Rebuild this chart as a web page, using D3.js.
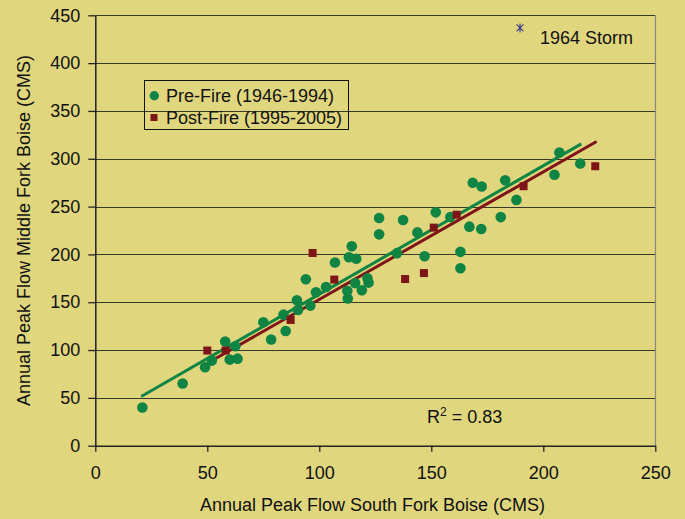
<!DOCTYPE html>
<html>
<head>
<meta charset="utf-8">
<script src="https://cdn.jsdelivr.net/npm/d3@7"></script>
<style>
  html, body { margin: 0; padding: 0; background: #dfd67e; }
  svg { display: block; }
  text { font-family: "Liberation Sans", Arial, sans-serif; fill: #111; }
</style>
</head>
<body>
<svg id="chart" width="685" height="519"></svg>
<script>
// ---- data ----
const preFireX = [21, 39, 49, 52, 58, 60, 62.5, 63.5, 75, 78.5, 84, 85, 90, 90.5, 94, 96, 98.5, 103, 107, 112.5, 112.7, 113.2, 114.5, 116.5, 116, 119, 121.5, 122, 126.7, 126.7, 134.7, 137.4, 143.8, 147, 152, 158.5, 163, 163, 167, 172.3, 168.5, 172.5, 181, 183, 188, 205, 207.2, 216.5];
const preFireY = [40, 65, 82, 89, 109, 90, 104, 91, 129, 111, 137, 120, 152, 142, 174, 146.5, 160.5, 166, 191.5, 162, 154, 197, 208.5, 195.5, 170, 162.5, 175, 170.5, 238, 221, 201.3, 236, 223, 198, 244, 239, 202.7, 185.5, 229, 226.5, 275, 271, 239, 277.5, 257, 283.3, 306.6, 295];
const postFireX = [50, 58.2, 87.2, 97, 106.7, 138.3, 146.7, 151.1, 161.3, 191.2, 223.2];
const postFireY = [99.5, 99.5, 131.5, 201.5, 173.7, 174.3, 180.5, 228, 241.5, 271.3, 292.2];
const stormX = [189.6];
const stormY = [436.8];
// trend line endpoints
const trendPreX = [20.5, 217];
const trendPreY = [51.5, 315.6];
const trendPostX = [50, 223.8];
const trendPostY = [86.2, 318.1];
const xTicks = [0, 50, 100, 150, 200, 250];
const yTicks = [0, 50, 100, 150, 200, 250, 300, 350, 400, 450];
const legendLabels = ["Pre-Fire (1946-1994)", "Post-Fire (1995-2005)"];
const stormLabel = "1964 Storm";
const xTitle = "Annual Peak Flow South Fork Boise (CMS)";
const yTitle = "Annual Peak Flow Middle Fork Boise (CMS)";

const green = "#0f8443";
const red = "#7e1517";
const FS = 18;

const svg = d3.select("#chart");
const x = d3.scaleLinear().domain([0, 250]).range([95.3, 655.3]);
const y = d3.scaleLinear().domain([0, 450]).range([445.7, 15.3]);

// gridlines
svg.append("g").selectAll("line").data(yTicks.filter(d => d > 0)).join("line")
  .attr("x1", x(0)).attr("x2", x(250))
  .attr("y1", d => Math.round(y(d)) + 0.5).attr("y2", d => Math.round(y(d)) + 0.5)
  .attr("stroke", "#3a3a2a").attr("stroke-width", 1);

// right border
svg.append("line").attr("x1", Math.round(x(250)) + 0.5).attr("x2", Math.round(x(250)) + 0.5)
  .attr("y1", y(450)).attr("y2", y(0)).attr("stroke", "#8a8a80").attr("stroke-width", 1.2);

// axes
const yAxis = svg.append("g").attr("transform", `translate(${x(0)},0)`)
  .call(d3.axisLeft(y).tickValues(yTicks).tickSize(7).tickSizeOuter(0).tickPadding(8));
const xAxis = svg.append("g").attr("transform", `translate(0,${y(0)})`)
  .call(d3.axisBottom(x).tickValues(xTicks).tickSize(6).tickSizeOuter(0).tickPadding(14.5));
[yAxis, xAxis].forEach(a => {
  a.selectAll("path.domain").attr("stroke", "#222").attr("stroke-width", 1.5);
  a.selectAll(".tick line").attr("stroke", "#222").attr("stroke-width", 1.3);
  a.selectAll("text").attr("font-size", FS).attr("fill", "#111")
    .attr("font-family", "'Liberation Sans', Arial, sans-serif");
});

// axis titles
svg.append("text").attr("x", 372.5).attr("y", 511).attr("text-anchor", "middle")
  .attr("font-size", FS).text(xTitle);
svg.append("text").attr("transform", `translate(29.5,${(y(0) + y(450)) / 2}) rotate(-90)`)
  .attr("text-anchor", "middle").attr("font-size", FS).text(yTitle);

// trend lines
const line = d3.line().x(d => x(d[0])).y(d => y(d[1]));
svg.append("path").datum(trendPostX.map((d, i) => [d, trendPostY[i]]))
  .attr("d", line).attr("stroke", red).attr("stroke-width", 3).attr("fill", "none");
svg.append("path").datum(trendPreX.map((d, i) => [d, trendPreY[i]]))
  .attr("d", line).attr("stroke", green).attr("stroke-width", 3).attr("fill", "none");

// pre-fire points
svg.append("g").selectAll("circle").data(preFireX.map((d, i) => [d, preFireY[i]])).join("circle")
  .attr("cx", d => x(d[0])).attr("cy", d => y(d[1])).attr("r", 5.3).attr("fill", green);

// post-fire points
const sq = 8;
svg.append("g").selectAll("rect").data(postFireX.map((d, i) => [d, postFireY[i]])).join("rect")
  .attr("x", d => x(d[0]) - sq / 2).attr("y", d => y(d[1]) - sq / 2)
  .attr("width", sq).attr("height", sq).attr("fill", red);

// storm point (asterisk)
const ast = svg.append("g").selectAll("g").data(stormX.map((d, i) => [d, stormY[i]])).join("g")
  .attr("transform", d => `translate(${x(d[0])},${y(d[1])})`);
ast.append("path").attr("d", "M-3.5,-3.5L3.5,3.5M-3.5,3.5L3.5,-3.5M0,-4.5L0,4.5")
  .attr("stroke", "#3b3b8c").attr("stroke-width", 1.2).attr("fill", "none");
svg.append("text").attr("x", 540).attr("y", 44).attr("font-size", FS).text(stormLabel);

// R squared
const r2 = svg.append("text").attr("x", 427).attr("y", 423).attr("font-size", FS);
r2.append("tspan").text("R");
r2.append("tspan").attr("font-size", 12).attr("dy", -7).text("2");
r2.append("tspan").attr("dy", 7).text(" = 0.83");

// legend
const lg = svg.append("g");
lg.append("rect").attr("x", 144.5).attr("y", 80.5).attr("width", 204).attr("height", 49)
  .attr("fill", "none").attr("stroke", "#111").attr("stroke-width", 1);
lg.append("circle").attr("cx", 154.3).attr("cy", 95.7).attr("r", 4.7).attr("fill", green);
lg.append("rect").attr("x", 150.5).attr("y", 114).attr("width", 7).attr("height", 7).attr("fill", red);
lg.append("text").attr("x", 166).attr("y", 101.5).attr("font-size", FS).text(legendLabels[0]);
lg.append("text").attr("x", 166).attr("y", 124).attr("font-size", FS).text(legendLabels[1]);
</script>
</body>
</html>
